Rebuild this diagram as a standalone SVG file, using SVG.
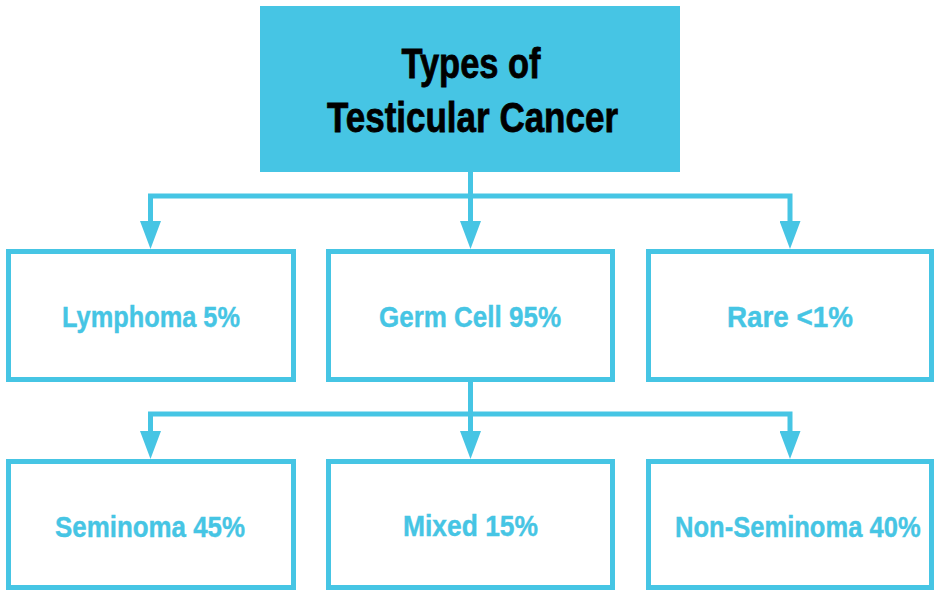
<svg xmlns="http://www.w3.org/2000/svg" width="934" height="590" viewBox="0 0 934 590">
<style>
.box{fill:#ffffff;stroke:#46C5E4;stroke-width:5}
.lbl{font-family:"Liberation Sans",Arial,sans-serif;font-weight:bold;font-size:30px;fill:#46C5E4;stroke:#46C5E4;stroke-width:0.4}
.ttl{font-family:"Liberation Sans",Arial,sans-serif;font-weight:bold;font-size:43px;fill:#000000;stroke:#000000;stroke-width:0.8}
.con{fill:none;stroke:#46C5E4;stroke-width:5;stroke-linejoin:miter}
</style>
<defs>
<marker id="arr" viewBox="0 0 28 21" refX="0" refY="10.5" markerWidth="28" markerHeight="21" markerUnits="userSpaceOnUse" orient="auto">
<path d="M0,0 L28,10.5 L0,21 z" fill="#46C5E4"/>
</marker>
</defs>
<rect width="934" height="590" fill="#ffffff"/>
<g id="connectors">
<path class="con" d="M470.5,172 V221" marker-end="url(#arr)"/>
<path class="con" d="M470.5,196 H150.5 V221" marker-end="url(#arr)"/>
<path class="con" d="M470.5,196 H790 V221" marker-end="url(#arr)"/>
<path class="con" d="M470.5,382 V431" marker-end="url(#arr)"/>
<path class="con" d="M470.5,414 H150.5 V431" marker-end="url(#arr)"/>
<path class="con" d="M470.5,414 H790 V431" marker-end="url(#arr)"/>
</g>
<g id="root">
<rect x="260" y="6" width="420" height="166" fill="#46C5E4"/>
<text class="ttl" x="401.5" y="78" textLength="139" lengthAdjust="spacingAndGlyphs">Types of</text>
<text class="ttl" x="327" y="132" textLength="291" lengthAdjust="spacingAndGlyphs">Testicular Cancer</text>
</g>
<g id="lymphoma">
<rect class="box" x="8.5" y="251.5" width="285" height="128"/>
<text class="lbl" x="62" y="327" textLength="178" lengthAdjust="spacingAndGlyphs">Lymphoma 5%</text>
</g>
<g id="germcell">
<rect class="box" x="328.5" y="251.5" width="284" height="128"/>
<text class="lbl" x="379" y="327" textLength="182" lengthAdjust="spacingAndGlyphs">Germ Cell 95%</text>
</g>
<g id="rare">
<rect class="box" x="648.5" y="251.5" width="283" height="128"/>
<text class="lbl" x="727" y="327" textLength="126" lengthAdjust="spacingAndGlyphs">Rare &lt;1%</text>
</g>
<g id="seminoma">
<rect class="box" x="8.5" y="461.5" width="285" height="126"/>
<text class="lbl" x="55" y="537" textLength="190" lengthAdjust="spacingAndGlyphs">Seminoma 45%</text>
</g>
<g id="mixed">
<rect class="box" x="328.5" y="461.5" width="284" height="126"/>
<text class="lbl" x="403" y="536" textLength="135" lengthAdjust="spacingAndGlyphs">Mixed 15%</text>
</g>
<g id="nonseminoma">
<rect class="box" x="648.5" y="461.5" width="283" height="126"/>
<text class="lbl" transform="translate(675,537) scale(0.852,1)" x="0" y="0">Non-Seminoma 40%</text>
</g>
</svg>
